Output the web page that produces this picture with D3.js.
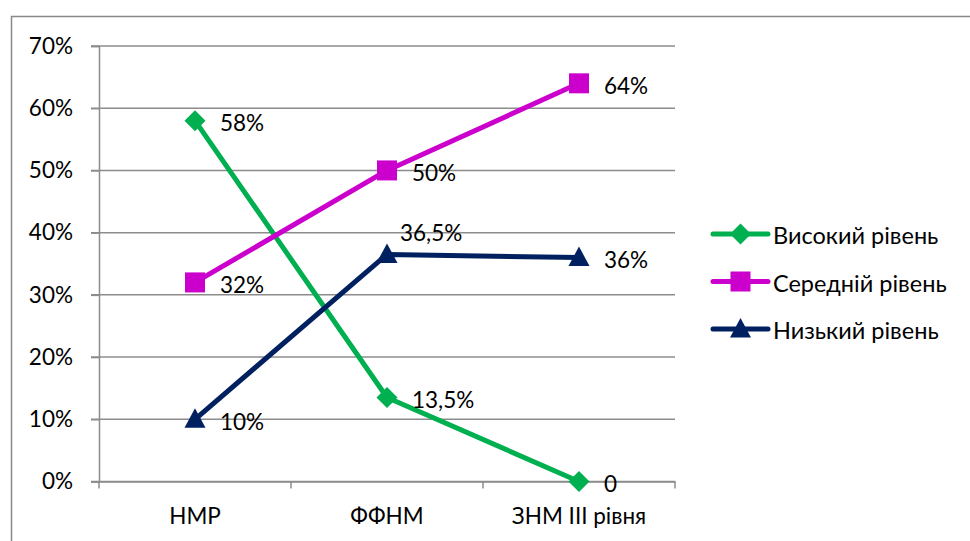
<!DOCTYPE html>
<html>
<head>
<meta charset="utf-8">
<script src="https://cdn.jsdelivr.net/npm/d3@7"></script>
<style>
  html, body { margin: 0; padding: 0; background: #fff; }
  svg { display: block; font-family: Lato, "Open Sans", sans-serif; }
</style>
</head>
<body>
<svg id="chart" width="970" height="541"></svg>
<script>
// Categories along the horizontal axis
const categories = ["НМР", "ФФНМ", "ЗНМ ІІІ рівня"];

// Series names and values (percent)
const seriesNames = ["Високий рівень", "Середній рівень", "Низький рівень"];
const highValues = [58, 13.5, 0];
const midValues = [32, 50, 64];
const lowValues = [10, 36.5, 36];

// Value labels as printed next to each point
const highLabels = ["58%", "13,5%", "0"];
const midLabels = ["32%", "50%", "64%"];
const lowLabels = ["10%", "36,5%", "36%"];

// Y axis ticks
const yTicks = [0, 10, 20, 30, 40, 50, 60, 70];

const series = [
  { name: seriesNames[0], values: highValues, labels: highLabels, color: "#00B050", marker: "diamond" },
  { name: seriesNames[1], values: midValues, labels: midLabels, color: "#CC00CC", marker: "square" },
  { name: seriesNames[2], values: lowValues, labels: lowLabels, color: "#002060", marker: "triangle" }
];

const FONT = 22.5;
const svg = d3.select("#chart");
const plot = { left: 99, right: 675, top: 46, bottom: 481.5 };

const x = d3.scaleBand().domain(categories).range([plot.left, plot.right]);
const y = d3.scaleLinear().domain([0, 70]).range([plot.bottom, plot.top]);
const cx = c => x(c) + x.bandwidth() / 2;

// Outer chart border
svg.append("rect")
  .attr("x", 11.5).attr("y", 16.5)
  .attr("width", 1000).attr("height", 600)
  .attr("fill", "none").attr("stroke", "#898989").attr("stroke-width", 1.5);

// Horizontal gridlines
svg.append("g").selectAll("line").data(yTicks).join("line")
  .attr("x1", plot.left - 8).attr("x2", plot.right)
  .attr("y1", d => y(d)).attr("y2", d => y(d))
  .attr("stroke", "#8c8c8c").attr("stroke-width", 1.5);

// Y axis
const yAxis = svg.append("g")
  .attr("transform", `translate(${plot.left},0)`)
  .call(d3.axisLeft(y).tickValues(yTicks).tickSize(8).tickPadding(18).tickFormat(d => d + "%"));
yAxis.select(".domain").attr("stroke", "#8c8c8c").attr("stroke-width", 1.5);
yAxis.selectAll(".tick line").attr("stroke", "#8c8c8c").attr("stroke-width", 1.5);
yAxis.selectAll("text").attr("font-size", FONT).attr("fill", "#000").attr("font-family", "Lato, sans-serif");

// X axis
const xAxis = svg.append("g")
  .attr("transform", `translate(0,${plot.bottom})`)
  .call(d3.axisBottom(x).tickSize(0).tickPadding(27));
xAxis.select(".domain").attr("stroke", "#8c8c8c").attr("stroke-width", 1.5);
xAxis.selectAll("text").attr("font-size", FONT).attr("fill", "#000").attr("font-family", "Lato, sans-serif");
// Tick marks on the category boundaries
const bounds = categories.map(c => x(c)).concat([plot.right]);
xAxis.append("g").selectAll("line").data(bounds).join("line")
  .attr("x1", d => d).attr("x2", d => d).attr("y1", 0).attr("y2", 7)
  .attr("stroke", "#8c8c8c").attr("stroke-width", 1.5);

// Marker shapes
function drawMarker(g, type, color) {
  if (type === "diamond") {
    g.append("path").attr("d", "M0,-10.5L10.5,0L0,10.5L-10.5,0Z").attr("fill", color);
  } else if (type === "square") {
    g.append("rect").attr("x", -10).attr("y", -10).attr("width", 20).attr("height", 20).attr("fill", color);
  } else {
    g.append("path").attr("d", "M0,-11L10.5,8.5L-10.5,8.5Z").attr("fill", color);
  }
}

const line = d3.line().x((d, i) => cx(categories[i])).y(d => y(d));

series.forEach((s, si) => {
  const g = svg.append("g");
  g.append("path")
    .attr("d", line(s.values))
    .attr("fill", "none")
    .attr("stroke", s.color)
    .attr("stroke-width", 5)
    .attr("stroke-linejoin", "round");
  s.values.forEach((v, i) => {
    const mg = g.append("g").attr("transform", `translate(${cx(categories[i])},${y(v)})`);
    drawMarker(mg, s.marker, s.color);
  });
  // Value labels, placed to the right; the middle low-level label sits above its point
  g.selectAll("text").data(s.values).join("text")
    .attr("x", (v, i) => cx(categories[i]) + (si === 2 && i === 1 ? 13 : 25))
    .attr("y", (v, i) => y(v) + (si === 2 && i === 1 ? -22 : 2))
    .attr("dominant-baseline", "central")
    .attr("font-size", FONT)
    .attr("fill", "#000")
    .text((v, i) => s.labels[i]);
});

// Legend
const legend = svg.append("g");
series.forEach((s, i) => {
  const ly = 234 + i * 47.5;
  const lg = legend.append("g");
  lg.append("line")
    .attr("x1", 713).attr("x2", 768).attr("y1", ly).attr("y2", ly)
    .attr("stroke", s.color).attr("stroke-width", 5).attr("stroke-linecap", "round");
  const mg = lg.append("g").attr("transform", `translate(740.5,${ly})`);
  drawMarker(mg, s.marker, s.color);
  lg.append("text")
    .attr("x", 773).attr("y", ly + 1)
    .attr("dominant-baseline", "central")
    .attr("font-size", 23.5)
    .attr("fill", "#000")
    .text(s.name);
});
</script>
</body>
</html>
